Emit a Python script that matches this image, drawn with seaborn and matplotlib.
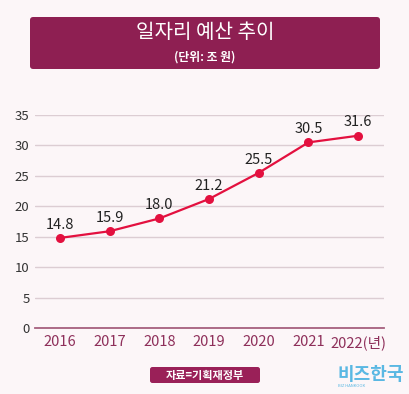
import matplotlib.pyplot as plt
import pandas as pd
import seaborn as sns
from matplotlib.patches import FancyBboxPatch

# ==========================
# DADOS
# ==========================

anos = ["2016", "2017", "2018", "2019", "2020", "2021", "2022(년)"]
orcamento = [14.8, 15.9, 18.0, 21.2, 25.5, 30.5, 31.6]
rotulos = ["14.8", "15.9", "18.0", "21.2", "25.5", "30.5", "31.6"]
y_ticks = [0, 5, 10, 15, 20, 25, 30, 35]

titulo = "일자리 예산 추이"
subtitulo = "(단위: 조 원)"
fonte = "자료=기획재정부"

# ==========================
# ESTILO
# ==========================

BG = "#fcf6f8"
BANNER = "#8e1f52"
LINE = "#e3103f"

sns.set_theme(style="white")
plt.rcParams["font.family"] = ["Noto Sans CJK KR", "DejaVu Sans"]

df = pd.DataFrame({"ano": anos, "valor": orcamento})

fig = plt.figure(figsize=(4.10, 3.94), dpi=100)
fig.patch.set_facecolor(BG)
ax = fig.add_axes([0.0854, 0.1675, 0.8512, 0.5406])
ax.set_facecolor(BG)

sns.lineplot(
    data=df,
    x="ano",
    y="valor",
    color=LINE,
    linewidth=1.6,
    marker="o",
    markersize=6.5,
    markeredgewidth=0,
    ax=ax,
)

for i, (v, r) in enumerate(zip(orcamento, rotulos)):
    ax.annotate(
        r,
        (i, v),
        xytext=(0, 4.5),
        textcoords="offset points",
        ha="center",
        va="bottom",
        fontsize=10.5,
        color="#222222",
        annotation_clip=False,
    )

ax.set_xlim(-0.5, 6.52)
ax.set_ylim(0, 35)
ax.set_yticks(y_ticks)
ax.yaxis.grid(True, color="#dccdd3", linewidth=1)
ax.xaxis.grid(False)
for s in ["top", "right", "left"]:
    ax.spines[s].set_visible(False)
ax.spines["bottom"].set_color("#a6607e")
ax.spines["bottom"].set_linewidth(1.3)
ax.set_xlabel("")
ax.set_ylabel("")
ax.tick_params(axis="y", length=0, pad=4, labelsize=9.5, labelcolor="#333333")
ax.tick_params(axis="x", length=0, pad=5, labelsize=10.5, labelcolor="#8e2f5a")

# ==========================
# TÍTULO
# ==========================

banner = FancyBboxPatch(
    (30 / 410, 1 - 69 / 394),
    350 / 410,
    52 / 394,
    boxstyle="round,pad=0,rounding_size=0.008",
    transform=fig.transFigure,
    facecolor=BANNER,
    edgecolor="none",
)
fig.patches.append(banner)
fig.text(0.5, 1 - 33 / 394, titulo, ha="center", va="center",
         fontsize=14.5, color="white", fontweight="medium")
fig.text(0.5, 1 - 57 / 394, subtitulo, ha="center", va="center",
         fontsize=8.5, color="white", fontweight="bold")

# ==========================
# FONTE
# ==========================

caixa = FancyBboxPatch(
    (150 / 410, 1 - 383 / 394),
    110 / 410,
    16 / 394,
    boxstyle="round,pad=0,rounding_size=0.006",
    transform=fig.transFigure,
    facecolor="#9a2058",
    edgecolor="none",
)
fig.patches.append(caixa)
fig.text(205 / 410, 1 - 375 / 394, fonte, ha="center", va="center",
         fontsize=8, color="white", fontweight="bold")

# marca d'água
fig.text(371 / 410, 1 - 375 / 394, "비즈한국", ha="center", va="center",
         fontsize=13, color="#5ab8e3", fontweight="bold")
fig.text(352 / 410, 1 - 386 / 394, "BIZ HANKOOK", ha="center", va="center",
         fontsize=3, color="#5ab8e3")

fig.savefig("out.png", dpi=100, facecolor=BG)
